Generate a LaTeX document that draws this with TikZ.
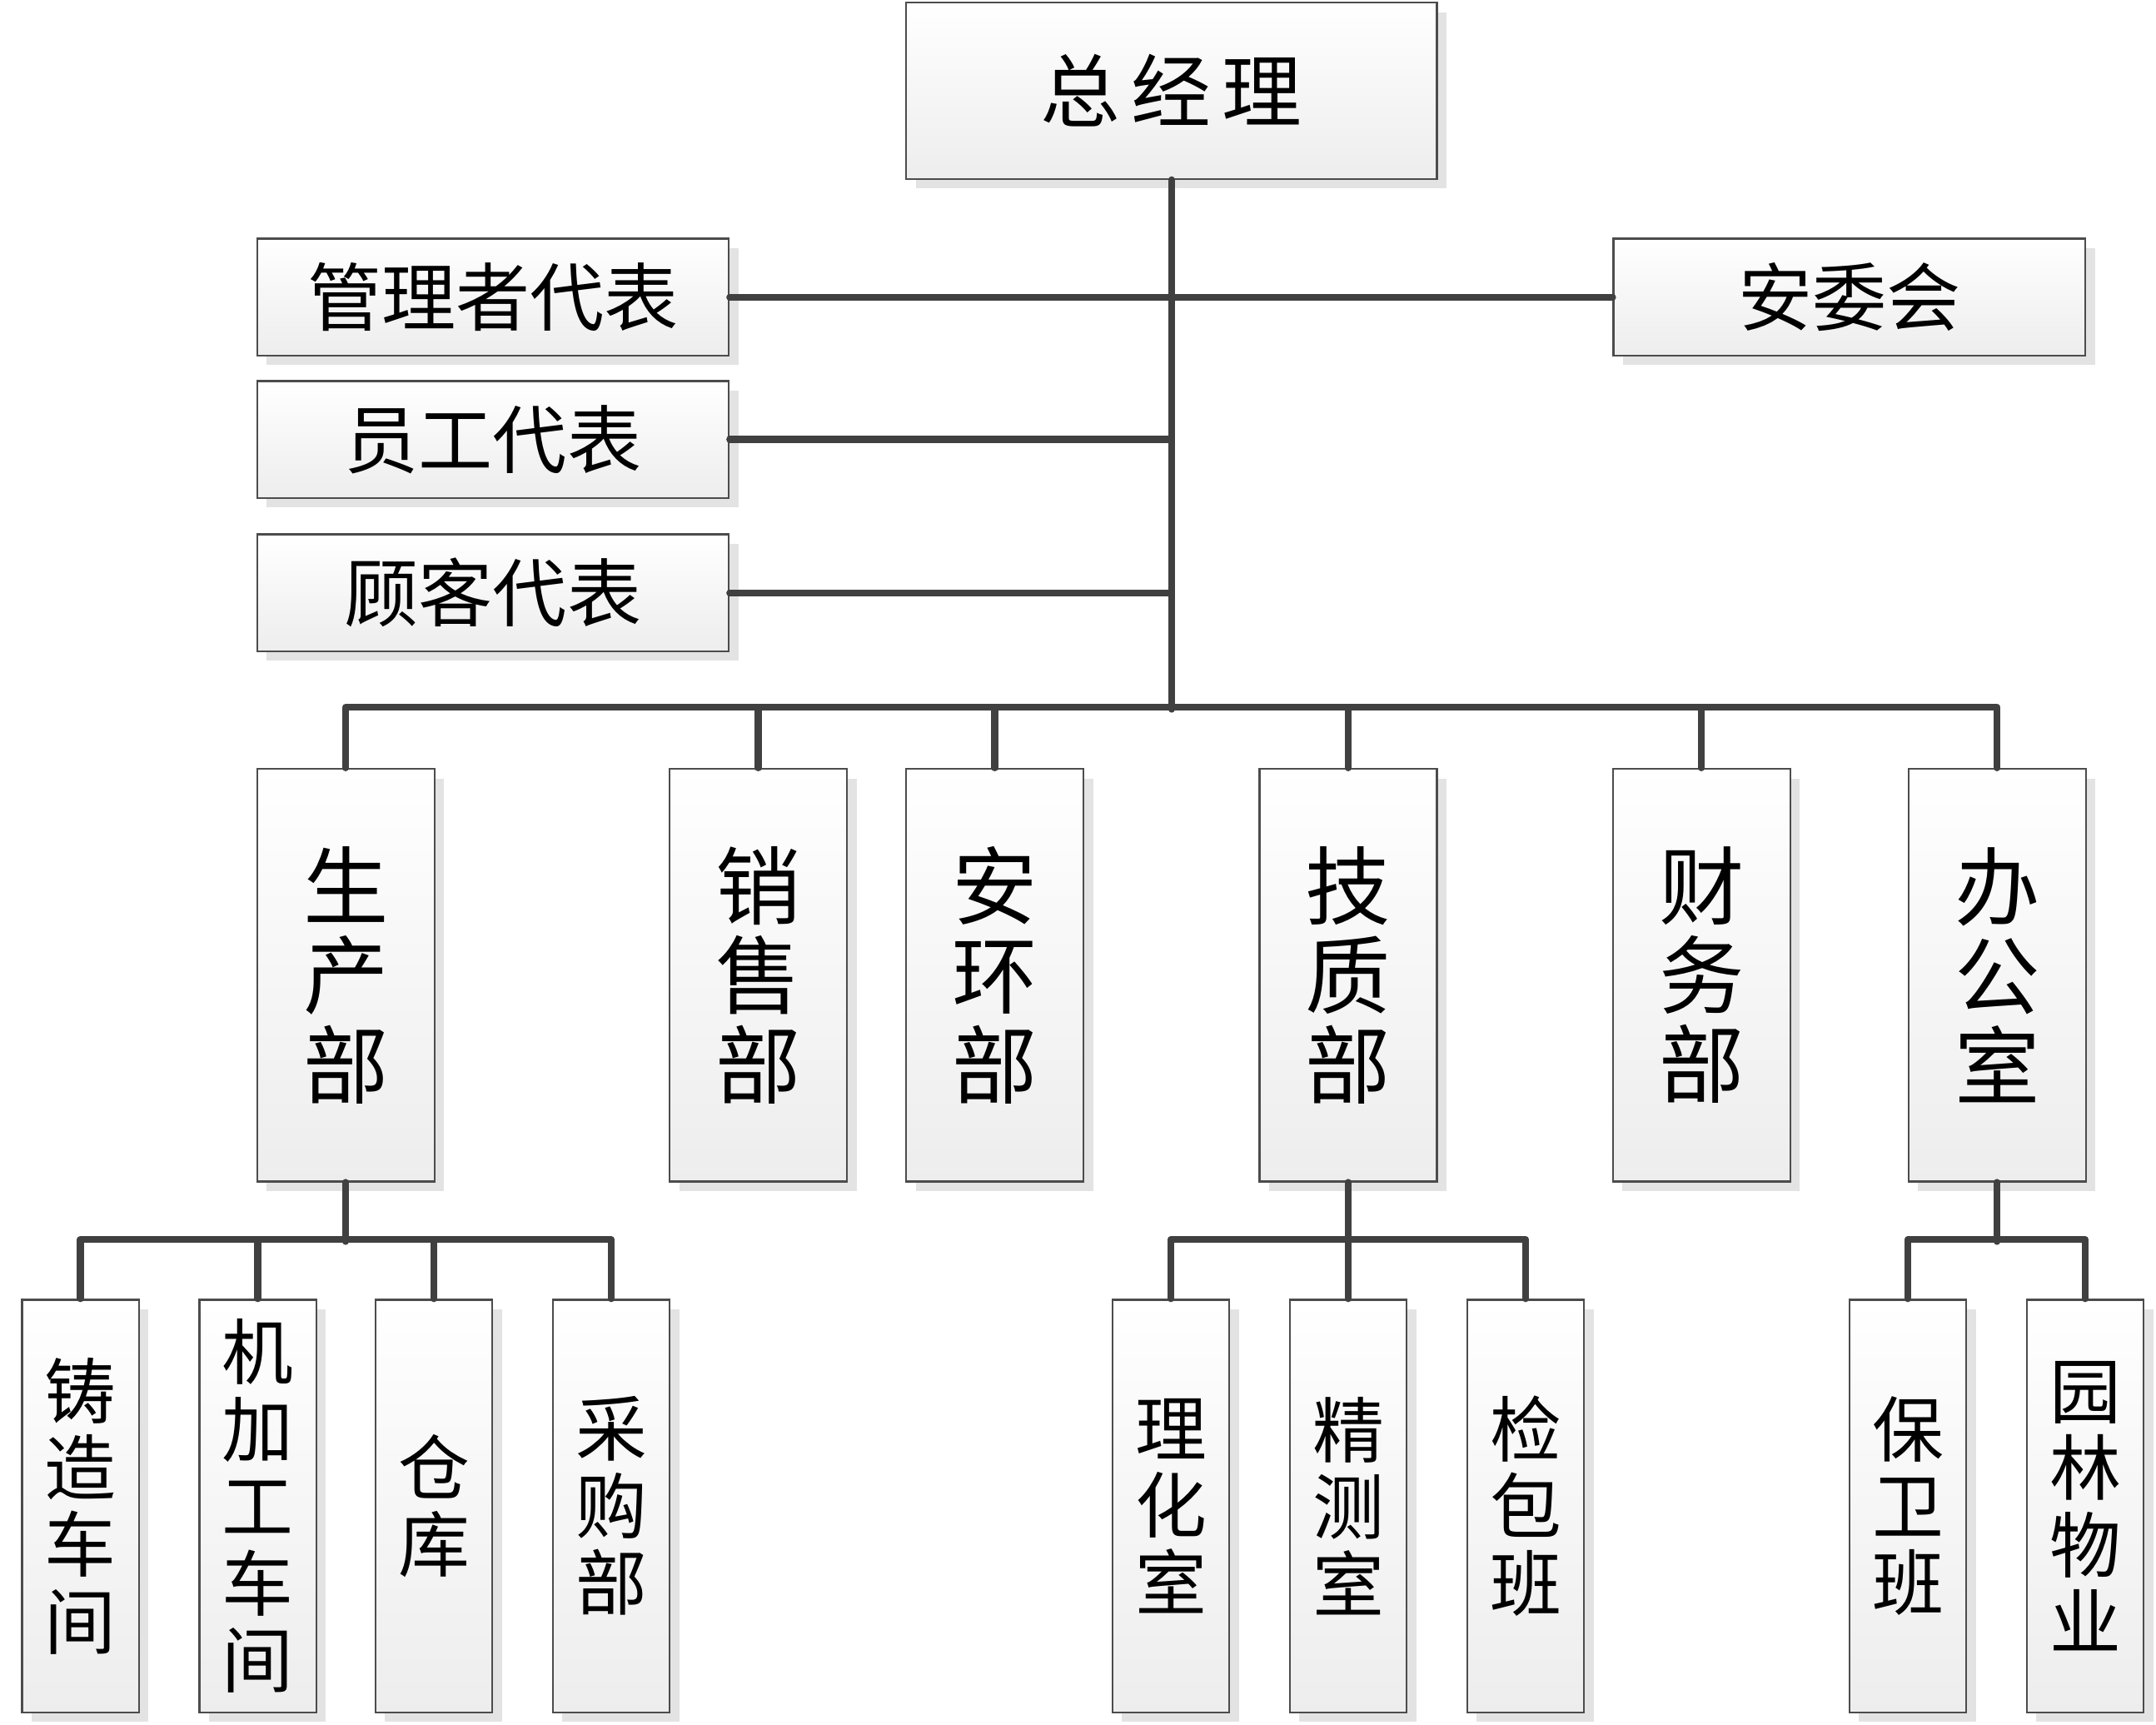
\documentclass[tikz,border=0pt]{standalone}
\usepackage{fontspec}
\newfontfamily\cjk{Noto Sans CJK SC}
\usetikzlibrary{shadows}
\begin{document}
\begin{tikzpicture}[x=1pt,y=1pt,
  box/.style={draw=black!70, line width=1.4pt, top color=white, bottom color=black!7,
    drop shadow={shadow xshift=7pt, shadow yshift=-7pt, fill=black!11, opacity=1},
    inner sep=0pt, align=center, text=black},
  topbox/.style={box, minimum width=386pt, minimum height=128pt, font=\cjk\fontsize{58}{62}\selectfont},
  repbox/.style={box, minimum width=343pt, minimum height=85pt, font=\cjk\fontsize{54}{58}\selectfont},
  deptbox/.style={box, minimum width=129pt, minimum height=300pt, font=\cjk\fontsize{62}{65}\selectfont},
  subbox/.style={box, minimum width=85pt, minimum height=300pt, font=\cjk\fontsize{52}{56}\selectfont},
  conn/.style={draw=black!75, line width=5pt, line cap=round, line join=round}]
\useasboundingbox (0,0) rectangle (1568,-1253.7);
% nodes
\node[topbox] (gm) at (852,-66) {总\hspace{8pt}经\hspace{8pt}理};
\node[repbox] (glz) at (358.5,-216) {管理者代表};
\node[repbox] (awh) at (1345,-216) {安委会};
\node[repbox] (ygdb) at (358.5,-319.5) {员工代表};
\node[repbox] (gkdb) at (358.5,-431) {顾客代表};
\node[deptbox] (scb) at (251.5,-709) {生\\产\\部};
\node[deptbox] (xsb) at (551.5,-709) {销\\售\\部};
\node[deptbox] (ahb) at (723.5,-709) {安\\环\\部};
\node[deptbox] (jzb) at (980.5,-709) {技\\质\\部};
\node[deptbox] (cwb) at (1237.5,-709) {财\\务\\部};
\node[deptbox] (bgs) at (1452.5,-709) {办\\公\\室};
\node[subbox] (zz) at (58.5,-1095) {铸\\造\\车\\间};
\node[subbox] (jj) at (187.5,-1095) {机\\加\\工\\车\\间};
\node[subbox] (ck) at (315.5,-1095) {仓\\库};
\node[subbox] (cg) at (444.5,-1095) {采\\购\\部};
\node[subbox] (lh) at (851.5,-1095) {理\\化\\室};
\node[subbox] (jc) at (980.5,-1095) {精\\测\\室};
\node[subbox] (jb) at (1109.5,-1095) {检\\包\\班};
\node[subbox] (bw) at (1387.5,-1095) {保\\卫\\班};
\node[subbox] (yl) at (1516.5,-1095) {园\\林\\物\\业};
% connectors
\draw[conn] (gm.south) -- ++(0,-385);
\draw[conn] (glz.east) -- (awh.west);
\draw[conn] (ygdb.east) -- (ygdb.east -| gm.south);
\draw[conn] (gkdb.east) -- (gkdb.east -| gm.south);
\draw[conn] (scb.north) -- ++(0,44) -| (bgs.north);
\draw[conn] (xsb.north) -- ++(0,44);
\draw[conn] (ahb.north) -- ++(0,44);
\draw[conn] (jzb.north) -- ++(0,44);
\draw[conn] (cwb.north) -- ++(0,44);
\draw[conn] (scb.south) -- ++(0,-43);
\draw[conn] (zz.north) -- ++(0,43) -| (cg.north);
\draw[conn] (jj.north) -- ++(0,43);
\draw[conn] (ck.north) -- ++(0,43);
\draw[conn] (jzb.south) -- (jc.north);
\draw[conn] (lh.north) -- ++(0,43) -| (jb.north);
\draw[conn] (bgs.south) -- ++(0,-43);
\draw[conn] (bw.north) -- ++(0,43) -| (yl.north);
\end{tikzpicture}
\end{document}
